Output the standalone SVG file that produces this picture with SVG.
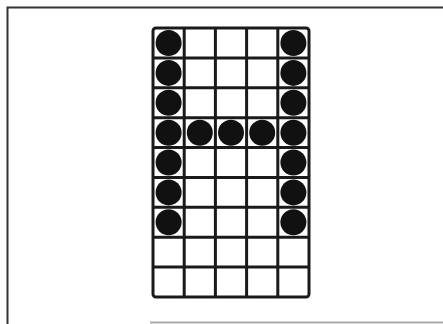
<svg xmlns="http://www.w3.org/2000/svg" width="443" height="324" viewBox="0 0 443 324">
<style>
.g{stroke:#1a1a1a;stroke-width:3;fill:none}
.d{fill:#111}
</style>
<rect width="443" height="324" fill="#fff"/>
<g id="frame">
<path d="M7.5 324 V7.5 H443" stroke="#333" stroke-width="2" fill="none"/>
<path d="M150 322.5 H443" stroke="#aaa" stroke-width="2" fill="none"/>
</g>
<g id="grid" class="g">
<rect x="153" y="28" width="156" height="269" rx="3"/>
<path d="M184.2 28V297M215.4 28V297M246.6 28V297M277.8 28V297"/>
<path d="M153 57.9H309M153 87.8H309M153 117.7H309M153 147.6H309M153 177.4H309M153 207.3H309M153 237.2H309M153 267.1H309"/>
</g>
<g id="dots" class="d">
<circle cx="168.6" cy="43" r="13"/><circle cx="293.4" cy="43" r="13"/>
<circle cx="168.6" cy="72.9" r="13"/><circle cx="293.4" cy="72.9" r="13"/>
<circle cx="168.6" cy="102.8" r="13"/><circle cx="293.4" cy="102.8" r="13"/>
<circle cx="168.6" cy="132.7" r="13"/><circle cx="199.8" cy="132.7" r="13"/><circle cx="231" cy="132.7" r="13"/><circle cx="262.2" cy="132.7" r="13"/><circle cx="293.4" cy="132.7" r="13"/>
<circle cx="168.6" cy="162.5" r="13"/><circle cx="293.4" cy="162.5" r="13"/>
<circle cx="168.6" cy="192.4" r="13"/><circle cx="293.4" cy="192.4" r="13"/>
<circle cx="168.6" cy="222.3" r="13"/><circle cx="293.4" cy="222.3" r="13"/>
</g>
</svg>
